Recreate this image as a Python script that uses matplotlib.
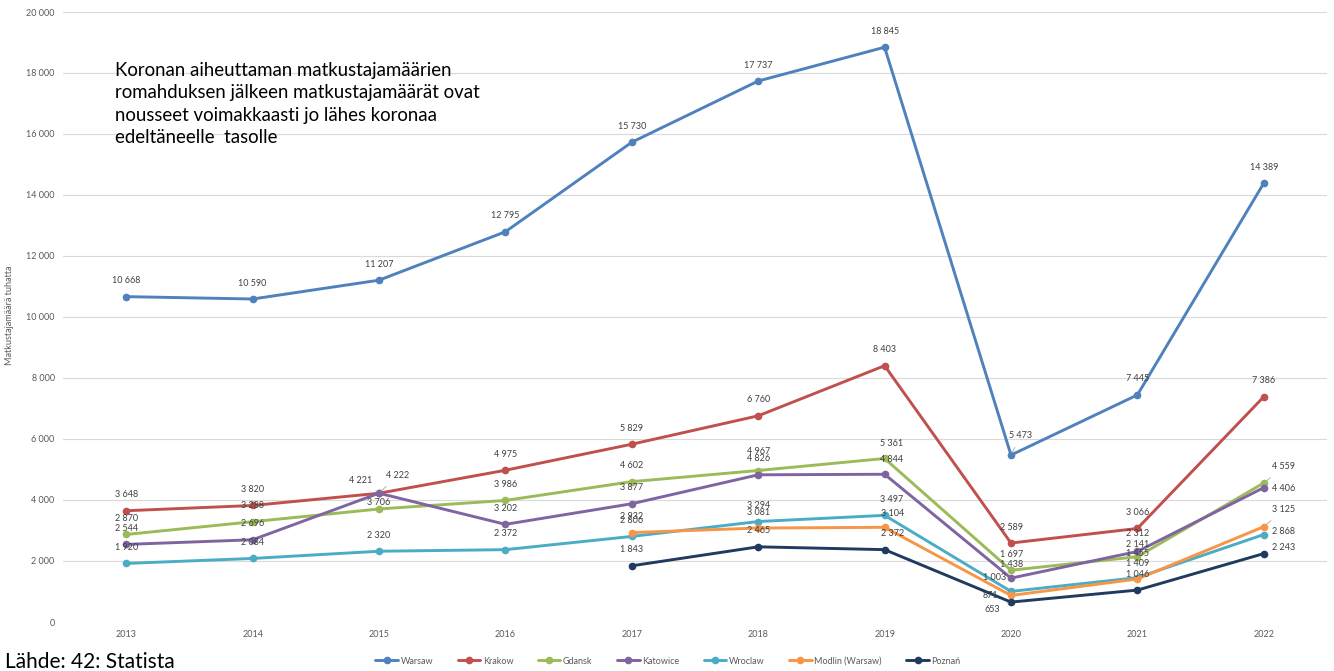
import numpy as np
import matplotlib.pyplot as plt

plt.rcParams['font.family'] = ['Lato', 'DejaVu Sans']

# Passenger numbers per airport, thousands
years = [2013, 2014, 2015, 2016, 2017, 2018, 2019, 2020, 2021, 2022]
warsaw = [10668, 10590, 11207, 12795, 15730, 17737, 18845, 5473, 7445, 14389]
krakow = [3648, 3820, 4221, 4975, 5829, 6760, 8403, 2589, 3066, 7386]
gdansk = [2870, 3288, 3706, 3986, 4602, 4967, 5361, 1697, 2141, 4559]
katowice = [2544, 2696, 4222, 3202, 3877, 4826, 4844, 1438, 2312, 4406]
wroclaw = [1920, 2084, 2320, 2372, 2806, 3294, 3497, 1003, 1455, 2868]
modlin = [None, None, None, None, 2932, 3081, 3104, 871, 1409, 3125]
poznan = [None, None, None, None, 1843, 2465, 2372, 653, 1046, 2243]

series = [
    ('Warsaw', warsaw, '#4F81BD'),
    ('Krakow', krakow, '#C0504D'),
    ('Gdansk', gdansk, '#9BBB59'),
    ('Katowice', katowice, '#8064A2'),
    ('Wroclaw', wroclaw, '#4BACC6'),
    ('Modlin (Warsaw)', modlin, '#F79646'),
    ('Poznań', poznan, '#1F3B5F'),
]

# label offsets in pixels (dx, dy) where the default "above" doesn't fit
offsets = {
    ('Krakow', 2015): (-18, 13),
    ('Katowice', 2015): (19, 18),
    ('Gdansk', 2015): (0, 6),
    ('Warsaw', 2020): (10, 20),
    ('Gdansk', 2020): (1, 16),
    ('Katowice', 2020): (1, 14),
    ('Wroclaw', 2020): (-16, 14),
    ('Modlin (Warsaw)', 2020): (-21, 0),
    ('Poznań', 2020): (-19, -7),
    ('Wroclaw', 2021): (0, 24),
    ('Katowice', 2021): (0, 18),
    ('Gdansk', 2021): (0, 12),
    ('Gdansk', 2019): (7, 15),
    ('Katowice', 2019): (7, 15),
    ('Wroclaw', 2019): (7, 16),
    ('Modlin (Warsaw)', 2019): (8, 14),
    ('Poznań', 2019): (8, 16),
    ('Gdansk', 2018): (0, 19),
    ('Gdansk', 2022): (20, 16),
    ('Katowice', 2022): (20, -1),
    ('Modlin (Warsaw)', 2022): (20, 17),
    ('Wroclaw', 2022): (20, 3),
    ('Poznań', 2022): (20, 6),
}
leaders = {('Krakow', 2015), ('Katowice', 2015), ('Warsaw', 2020),
           ('Poznań', 2020), ('Gdansk', 2022), ('Modlin (Warsaw)', 2022)}

fig = plt.figure(figsize=(13.34, 6.71), dpi=100)
ax = fig.add_axes([63 / 1334, 1 - 622 / 671, 1264 / 1334, 610 / 671])

x = np.arange(len(years))
for name, vals, color in series:
    xs = [i for i, v in enumerate(vals) if v is not None]
    ys = [vals[i] for i in xs]
    ax.plot(xs, ys, color=color, lw=2.1, marker='o', ms=4.5, label=name,
            solid_capstyle='round', zorder=3)
    for i, v in zip(xs, ys):
        dx, dy = offsets.get((name, years[i]), (0, 16))
        arrow = None
        if (name, years[i]) in leaders:
            arrow = dict(arrowstyle='-', color='#A6A6A6', lw=0.6, shrinkA=4, shrinkB=2)
        ax.annotate(f'{v:,}'.replace(',', ' '), (i, v), xytext=(dx, dy),
                    textcoords='offset pixels', ha='center', va='center',
                    fontsize=6.5, color='#404040', arrowprops=arrow, zorder=4)

ax.set_xlim(-0.5, len(years) - 0.5)
ax.set_ylim(0, 20000)
ax.set_xticks(x)
ax.set_xticklabels([str(y) for y in years])
ax.set_yticks(np.arange(0, 20001, 2000))
ax.set_yticklabels([f'{t:,}'.replace(',', ' ') for t in range(0, 20001, 2000)])
ax.tick_params(length=0, labelsize=6.5, labelcolor='#595959', pad=6)
ax.grid(axis='y', color='#D9D9D9', lw=0.8)
ax.set_axisbelow(True)
for s in ax.spines.values():
    s.set_visible(False)

fig.text(10 / 1334, 1 - 315 / 671, 'Matkustajamäärä tuhatta', rotation=90,
         ha='center', va='center', fontsize=6.5, color='#595959')

fig.text(115 / 1334, 1 - 62 / 671,
         'Koronan aiheuttaman matkustajamäärien\n'
         'romahduksen jälkeen matkustajamäärät ovat\n'
         'nousseet voimakkaasti jo lähes koronaa\n'
         'edeltäneelle  tasolle',
         ha='left', va='top', fontsize=13.4, linespacing=1.38, color='black')

fig.text(5 / 1334, 1 - 662 / 671, 'Lähde: 42: Statista', ha='left', va='center',
         fontsize=15, color='black')

fig.legend(loc='center', bbox_to_anchor=(668 / 1334, 1 - 661 / 671), ncol=7,
           frameon=False, fontsize=6.5, labelcolor='#595959', handlelength=2.5,
           columnspacing=2.7, handletextpad=0.3)

fig.savefig('out.png', dpi=100)
